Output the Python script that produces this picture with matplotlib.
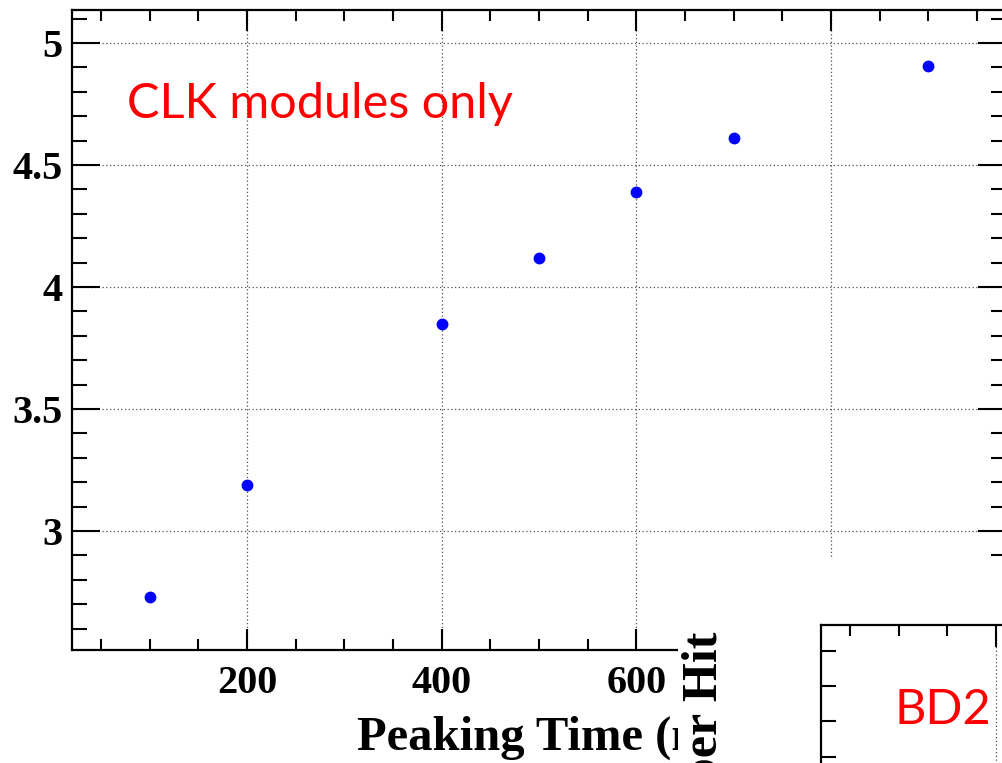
import matplotlib
matplotlib.use("Agg")
import matplotlib.pyplot as plt
from matplotlib.ticker import MultipleLocator
from matplotlib.font_manager import FontProperties

# data
peaking_time = [100, 200, 400, 500, 600, 700, 900]
value = [2.73, 3.19, 3.85, 4.12, 4.39, 4.61, 4.906]
x_ticks = [200, 400, 600, 800]
y_ticks = [3, 3.5, 4, 4.5, 5]

W, H = 1002, 763
fig = plt.figure(figsize=(W / 100, H / 100), dpi=100)

serif = dict(family="Liberation Serif", weight="bold")
red_font = dict(family="Lato", color="red")

# main plot
ax = fig.add_axes([72 / W, 1 - 650 / H, 934 / W, 640 / H], zorder=1)
ax.plot(peaking_time, value, "o", color="#0000ff", markersize=7.5, mec="#0000ff")
ax.set_xlim(20, 980)
ax.set_ylim(2.512, 5.135)
ax.set_xticks(x_ticks)
ax.set_yticks(y_ticks)
ax.set_yticklabels([f"{t:g}" for t in y_ticks])
ax.xaxis.set_minor_locator(MultipleLocator(50))
ax.yaxis.set_minor_locator(MultipleLocator(0.1))
ax.grid(True, which="major", color="0.3", linestyle=(0, (1, 2)), linewidth=0.9)
ax.tick_params(which="both", direction="in", top=True, right=True, width=1.5)
ax.tick_params(axis="x", which="major", length=15, pad=11)
ax.tick_params(axis="x", which="minor", length=8)
ax.tick_params(axis="y", which="major", length=20, pad=7)
ax.tick_params(axis="y", which="minor", length=11)
for lab in ax.get_xticklabels() + ax.get_yticklabels():
    lab.set_fontproperties(FontProperties(size=29, **serif))
for sp in ax.spines.values():
    sp.set_linewidth(1.6)
ax.text((357 - 72) / 934, (650 - 750) / 640, "Peaking Time (ns)", transform=ax.transAxes,
        ha="left", va="baseline", fontsize=35, **serif)
fig.text(127 / W, 1 - 118 / H, "CLK modules only", ha="left", va="baseline",
         fontsize=35, **red_font)

# white panel pasted over the lower right corner
ov = fig.add_axes([678 / W, 0, 324 / W, 204 / H], zorder=2)
ov.set_facecolor("white")
ov.set_xticks([])
ov.set_yticks([])
for sp in ov.spines.values():
    sp.set_visible(False)
ov.text(705 / W, 1 - 632 / H, "per Hit", transform=fig.transFigure, rotation=90,
        ha="center", va="top", fontsize=36, clip_on=True, **serif)

# corner of a second frame inside the panel
ax2 = fig.add_axes([821 / W, -76 / H, 0.3, 214 / H], zorder=3)
ax2.set_facecolor("none")
ax2.set_xlim(-0.6, 5.6)
ax2.set_ylim(-2.34, 3.743)
ax2.set_xticks([3])
ax2.set_xticks([0, 1, 2, 4, 5], minor=True)
ax2.set_yticks([])
ax2.set_yticks([0, 1, 2, 3], minor=True)
ax2.set_xticklabels([])
ax2.grid(True, axis="x", which="major", color="0.3", linestyle=(0, (1, 2)), linewidth=0.9)
ax2.tick_params(which="both", direction="in", top=True, bottom=False, width=1.5,
                labelbottom=False, labelleft=False)
ax2.tick_params(axis="x", which="major", length=16)
ax2.tick_params(axis="x", which="minor", length=8)
ax2.tick_params(axis="y", which="minor", length=11)
for sp in ax2.spines.values():
    sp.set_linewidth(1.6)
fig.text(943 / W, 1 - 710 / H, "BD2", ha="center", va="center", fontsize=35, **red_font)

fig.savefig("out.png", dpi=100)
